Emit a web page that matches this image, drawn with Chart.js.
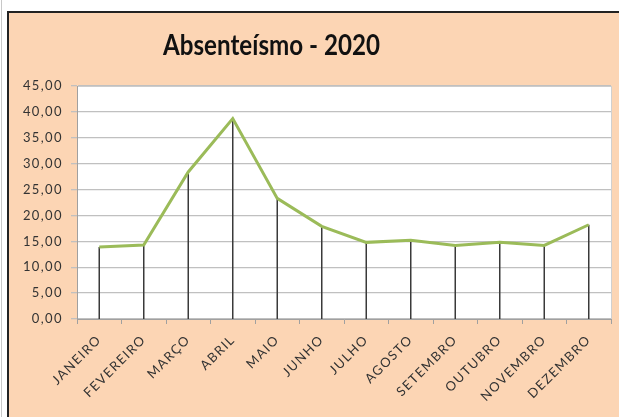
<!DOCTYPE html>
<html><head><meta charset="utf-8">
<script src="https://cdn.jsdelivr.net/npm/chart.js@4/dist/chart.umd.min.js"></script>
<style>html,body{margin:0;padding:0;background:#fff;}#wrap{width:619px;height:417px;position:relative;}</style>
</head><body><div id="wrap"><canvas id="c" width="619" height="417"></canvas></div>
<script>
const categories = ["JANEIRO","FEVEREIRO","MARÇO","ABRIL","MAIO","JUNHO","JULHO","AGOSTO","SETEMBRO","OUTUBRO","NOVEMBRO","DEZEMBRO"];
const absenteismo = [13.9, 14.3, 28.4, 38.7, 23.3, 17.9, 14.8, 15.2, 14.2, 14.8, 14.2, 18.2];
const titleText = "Absenteísmo - 2020";
const yMin = 0, yMax = 45, yStep = 5;

const FONT = "Lato, 'Open Sans', sans-serif";
const SPACING = '1.4px';

const spacing = {
  id: 'spacing',
  beforeLayout(chart) { chart.ctx.letterSpacing = SPACING; },
  afterLayout(chart) { chart.ctx.letterSpacing = SPACING; }
};

const frame = {
  id: 'frame',
  beforeDraw(chart) {
    const ctx = chart.ctx, a = chart.chartArea;
    ctx.save();
    ctx.letterSpacing = '0px';
    ctx.fillStyle = '#ffffff';
    ctx.fillRect(0, 0, chart.width, chart.height);
    ctx.fillStyle = '#FCD5B4';
    ctx.fillRect(8, 12, chart.width - 8, chart.height - 12);
    ctx.strokeStyle = '#222';
    ctx.lineWidth = 2;
    ctx.beginPath();
    ctx.moveTo(8, chart.height); ctx.lineTo(8, 12); ctx.lineTo(chart.width, 12);
    ctx.stroke();
    ctx.strokeStyle = '#c8c8c8';
    ctx.lineWidth = 1;
    ctx.beginPath(); ctx.moveTo(1.5, 0); ctx.lineTo(1.5, chart.height); ctx.stroke();
    ctx.fillStyle = '#ffffff';
    ctx.fillRect(a.left, a.top, a.right - a.left, a.bottom - a.top);
    ctx.strokeStyle = '#d0d0d0';
    ctx.strokeRect(a.left + 0.5, a.top + 0.5, a.right - a.left, a.bottom - a.top);
    // title, fitted to the reference's width
    ctx.fillStyle = '#111';
    ctx.font = "bold 29px " + FONT;
    ctx.textAlign = 'center';
    ctx.textBaseline = 'alphabetic';
    const w = ctx.measureText(titleText).width;
    const sx = 217 / w;
    ctx.translate(271.5, 55);
    ctx.scale(sx, 1);
    ctx.fillText(titleText, 0, 0);
    ctx.restore();
    ctx.letterSpacing = SPACING;
  },
  afterDraw(chart) { chart.ctx.letterSpacing = '0px'; }
};

const dropLines = {
  id: 'dropLines',
  beforeDatasetsDraw(chart) {
    const ctx = chart.ctx;
    const meta = chart.getDatasetMeta(0);
    const yBase = chart.scales.y.getPixelForValue(0);
    ctx.save();
    ctx.strokeStyle = '#3a3a3a';
    ctx.lineWidth = 1.5;
    meta.data.forEach(p => {
      ctx.beginPath();
      ctx.moveTo(p.x, p.y);
      ctx.lineTo(p.x, yBase);
      ctx.stroke();
    });
    ctx.restore();
  }
};

new Chart(document.getElementById('c'), {
  type: 'line',
  data: {
    labels: categories,
    datasets: [{
      data: absenteismo,
      borderColor: '#9BBB59',
      borderWidth: 3,
      pointRadius: 0,
      tension: 0,
      fill: false
    }]
  },
  options: {
    responsive: false,
    animation: false,
    devicePixelRatio: 1,
    layout: { padding: { left: 0, right: 8, top: 86, bottom: 0 } },
    plugins: { legend: { display: false }, title: { display: false }, tooltip: { enabled: false } },
    scales: {
      x: {
        offset: true,
        grid: { offset: true, drawOnChartArea: false, drawTicks: true, tickLength: 5, color: '#a0a0a0' },
        border: { display: true, color: '#a0a0a0' },
        ticks: { maxRotation: 45, minRotation: 45, autoSkip: false, padding: 8, color: '#333', font: { family: FONT, size: 13 } },
        afterFit(s) { s.height = 98; s.paddingLeft = 0; s.paddingRight = 0; }
      },
      y: {
        min: yMin, max: yMax,
        grid: { color: '#c0c0c0', lineWidth: 1.3, tickLength: 6, drawTicks: true },
        border: { display: true, color: '#a0a0a0' },
        ticks: {
          stepSize: yStep, padding: 8, color: '#333', font: { family: FONT, size: 13 },
          callback: v => v.toFixed(2).replace('.', ',')
        },
        afterFit(s) { s.width = 77; }
      }
    }
  },
  plugins: [spacing, frame, dropLines]
});
</script></body></html>
